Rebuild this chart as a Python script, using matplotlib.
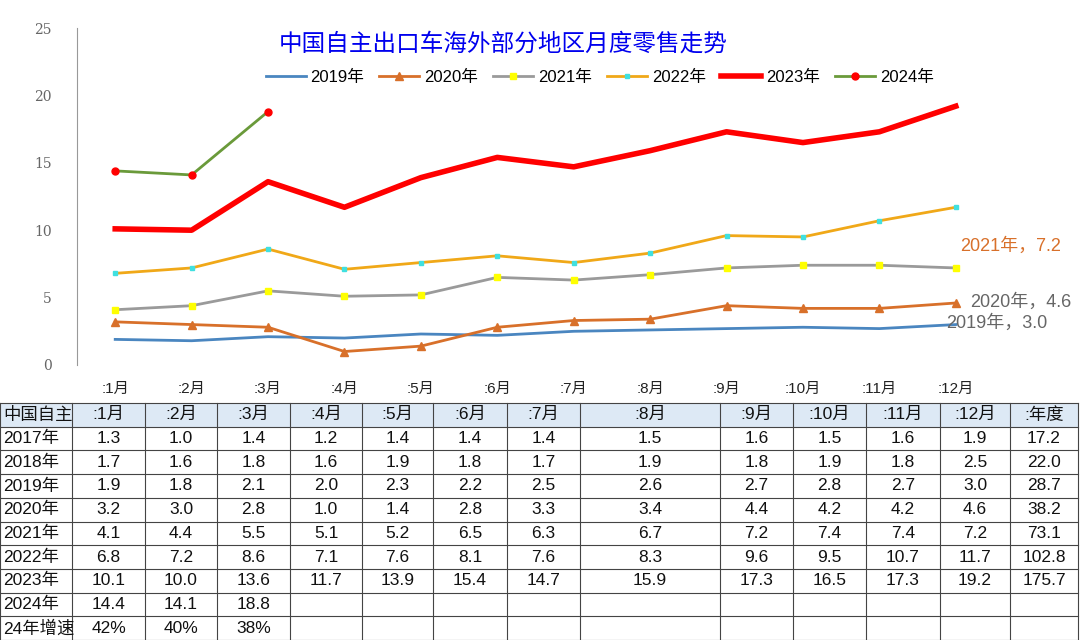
import matplotlib
matplotlib.use("Agg")
import matplotlib.pyplot as plt
from matplotlib.patches import Rectangle

plt.rcParams['font.family'] = ['Liberation Sans', 'Noto Sans CJK SC', 'DejaVu Sans']

months = [":1月", ":2月", ":3月", ":4月", ":5月", ":6月", ":7月", ":8月", ":9月", ":10月", ":11月", ":12月"]
y2017 = [1.3, 1.0, 1.4, 1.2, 1.4, 1.4, 1.4, 1.5, 1.6, 1.5, 1.6, 1.9]
y2018 = [1.7, 1.6, 1.8, 1.6, 1.9, 1.8, 1.7, 1.9, 1.8, 1.9, 1.8, 2.5]
y2019 = [1.9, 1.8, 2.1, 2.0, 2.3, 2.2, 2.5, 2.6, 2.7, 2.8, 2.7, 3.0]
y2020 = [3.2, 3.0, 2.8, 1.0, 1.4, 2.8, 3.3, 3.4, 4.4, 4.2, 4.2, 4.6]
y2021 = [4.1, 4.4, 5.5, 5.1, 5.2, 6.5, 6.3, 6.7, 7.2, 7.4, 7.4, 7.2]
y2022 = [6.8, 7.2, 8.6, 7.1, 7.6, 8.1, 7.6, 8.3, 9.6, 9.5, 10.7, 11.7]
y2023 = [10.1, 10.0, 13.6, 11.7, 13.9, 15.4, 14.7, 15.9, 17.3, 16.5, 17.3, 19.2]
y2024 = [14.4, 14.1, 18.8]
annual = ["17.2", "22.0", "28.7", "38.2", "73.1", "102.8", "175.7", "", ""]
growth = ["42%", "40%", "38%"]

W, H = 1080, 640
fig = plt.figure(figsize=(W/100, H/100), dpi=100)

def fx(px): return px / W
def fy(py): return 1 - py / H

ax = fig.add_axes([fx(77), fy(365), fx(994 - 77), (365 - 28) / H])
x = list(range(12))
ax.plot(x, y2019, color='#4a86c0', lw=2, label='2019年')
ax.plot(x, y2020, color='#d8702a', lw=2, marker='^', ms=6, label='2020年')
ax.plot(x, y2021, color='#9a9a9a', lw=2, marker='s', ms=4, mfc='#ffff00', mec='#ffff00', label='2021年')
ax.plot(x, y2022, color='#f0a818', lw=2, marker='s', ms=3, mfc='#40e0e0', mec='#40e0e0', label='2022年')
ax.plot(x, y2023, color='#ff0000', lw=4, label='2023年')
ax.plot(range(len(y2024)), y2024, color='#6a9a3a', lw=2, marker='o', ms=5, mfc='#ff0000', mec='#ff0000', label='2024年')
ax.set_xlim(-0.5, 11.5)
ax.set_ylim(0, 25)
ax.set_yticks([0, 5, 10, 15, 20, 25])
ax.set_xticks(x)
ax.set_xticklabels(months, fontsize=11)
for s in ['top', 'right', 'bottom']:
    ax.spines[s].set_visible(False)
ax.spines['left'].set_color('#999999')
ax.tick_params(axis='y', length=0, colors='#666666', labelsize=10, pad=18)
ax.tick_params(axis='x', length=0, colors='#222222', pad=12)
for lab in ax.get_yticklabels():
    lab.set_family(['DejaVu Serif'])
leg = ax.legend(loc='upper center', bbox_to_anchor=(0.57, 0.92), ncol=6, frameon=False,
                fontsize=12, handlelength=2.4, columnspacing=0.9, handletextpad=0.3)
ax.text(0.465, 0.985, "中国自主出口车海外部分地区月度零售走势", transform=ax.transAxes,
        ha='center', va='top', fontsize=17, color='#0000ee')
ax.annotate("2021年，7.2", (11, 7.2), xytext=(3, 12), textcoords='offset points',
            color='#d8702a', fontsize=13)
ax.annotate("2020年，4.6", (11, 4.6), xytext=(10, -3), textcoords='offset points',
            color='#666666', fontsize=13)
ax.annotate("2019年，3.0", (11, 3.0), xytext=(-7, -2), textcoords='offset points',
            color='#666666', fontsize=13)

# table
cols = [0, 72, 145, 217, 290, 362, 433, 507, 580, 720, 793, 866, 940, 1010, 1078]
top, rh = 403, 23.7
header = ["中国自主"] + months + [":年度"]
rows = [("2017年", y2017), ("2018年", y2018), ("2019年", y2019), ("2020年", y2020),
        ("2021年", y2021), ("2022年", y2022), ("2023年", y2023)]
table = [header]
for i, (n, v) in enumerate(rows):
    table.append([n] + [f"{a:.1f}" for a in v] + [annual[i]])
table.append(["2024年"] + [f"{a:.1f}" for a in y2024] + [""] * 10)
table.append(["24年增速"] + growth + [""] * 10)
nrows = len(table)
fig.patches.append(Rectangle((fx(0), fy(top + rh)), 1 - 2 / W, rh / H,
                             transform=fig.transFigure, facecolor='#dde9f5', edgecolor='none'))
for r in range(nrows + 1):
    yy = fy(top + r * rh)
    fig.add_artist(plt.Line2D([fx(0), fx(1078)], [yy, yy], color='#444444', lw=0.8))
for c in cols:
    fig.add_artist(plt.Line2D([fx(c), fx(c)], [fy(top), fy(top + nrows * rh)], color='#444444', lw=0.8))
for r, row in enumerate(table):
    yc = fy(top + (r + 0.5) * rh)
    for c, t in enumerate(row):
        if c == 0:
            fig.text(fx(3), yc, t, ha='left', va='center', fontsize=12.5, color='#111111')
        else:
            fig.text(fx((cols[c] + cols[c + 1]) / 2), yc, t, ha='center', va='center',
                     fontsize=12.5, color='#111111')

fig.savefig("out.png", dpi=100)
